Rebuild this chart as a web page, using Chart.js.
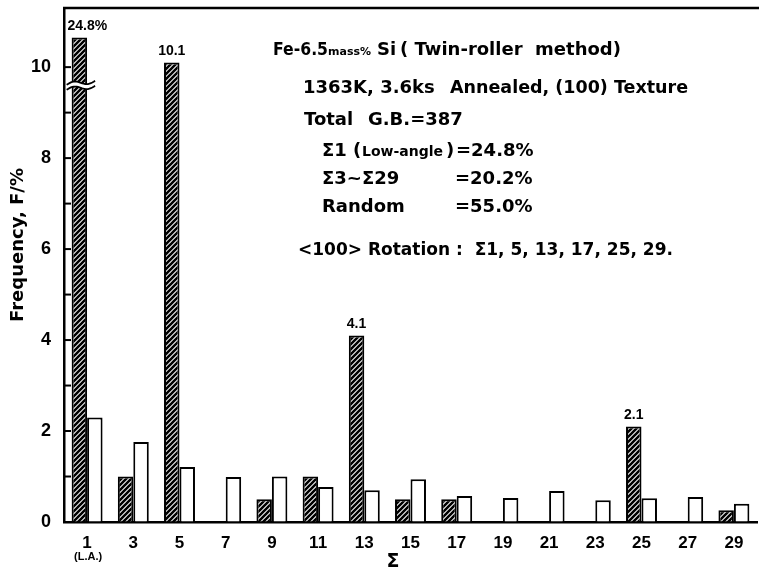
<!DOCTYPE html>
<html><head><meta charset="utf-8">
<script src="https://cdn.jsdelivr.net/npm/chart.js@4.4.0/dist/chart.umd.js"></script>
<style>html,body{margin:0;padding:0;background:#fff;}</style>
</head><body>
<canvas id="c" width="759" height="573"></canvas>
<script>
const SIGMA = ['1', '3', '5', '7', '9', '11', '13', '15', '17', '19', '21', '23', '25', '27', '29'];
const MEASURED = [24.8, 1.0, 10.1, 0, 0.5, 1.0, 4.1, 0.5, 0.5, 0, 0, 0, 2.1, 0, 0.26];
const RANDOM = [2.3, 1.76, 1.21, 0.99, 1.0, 0.77, 0.7, 0.94, 0.57, 0.53, 0.68, 0.48, 0.52, 0.55, 0.4];
const PEAK_LABELS = ['24.8%', '', '10.1', '', '', '', '4.1', '', '', '', '', '', '2.1', '', ''];
const Y_LABELS = [0, 2, 4, 6, 8, 10];
const Y_MAX = 11.3;
const CLIP_AT = 10.65;   // the Σ1 bar is drawn cut (axis break) at this height
const BREAK_AT = 9.6;
const FONT = '"Liberation Sans", Arial, sans-serif';
const TFONT = '"DejaVu Sans", sans-serif';

function hatch() {
    const s = 5, c = document.createElement('canvas');
    c.width = s; c.height = s;
    const g = c.getContext('2d');
    g.fillStyle = '#fff'; g.fillRect(0, 0, s, s);
    g.strokeStyle = '#000'; g.lineWidth = 2.6;
    g.beginPath();
    g.moveTo(-1, s + 1); g.lineTo(s + 1, -1);
    g.moveTo(-1, 1); g.lineTo(1, -1);
    g.moveTo(s - 1, s + 1); g.lineTo(s + 1, s - 1);
    g.stroke();
    return g.createPattern(c, 'repeat');
}

function txt(ctx, s, x, y, size, opts = {}) {
    ctx.save();
    ctx.font = `${opts.weight || 'bold'} ${size}px ${opts.family || TFONT}`;
    ctx.fillStyle = '#000';
    ctx.textAlign = opts.align || 'left';
    ctx.textBaseline = 'middle';
    if (opts.w) ctx.fillText(s, x, y, opts.w); else ctx.fillText(s, x, y);
    ctx.restore();
}

const decor = {
    id: 'decor',
    afterDatasetsDraw(chart) {
        const { ctx, chartArea: a, scales: { x, y } } = chart;
        // top frame line
        ctx.save();
        ctx.strokeStyle = '#000'; ctx.lineWidth = 2.5;
        ctx.beginPath(); ctx.moveTo(a.left - 1, a.top); ctx.lineTo(chart.width, a.top); ctx.stroke();
        // inward y ticks
        ctx.lineWidth = 2;
        y.ticks.forEach((t) => {
            if (!Number.isInteger(t.value) || t.value === 0) return;
            const py = y.getPixelForValue(t.value);
            ctx.beginPath(); ctx.moveTo(a.left, py); ctx.lineTo(a.left + 7, py); ctx.stroke();
        });
        ctx.restore();

        // axis break on the Σ1 bar
        const bar = chart.getDatasetMeta(0).data[0];
        const by = y.getPixelForValue(BREAK_AT);
        const x0 = bar.x - bar.width / 2 - 5, x1 = bar.x + bar.width / 2 + 8;
        const wave = (off) => {
            const pts = [];
            for (let i = 0; i <= 20; i++) {
                const t = i / 20, px = x0 + (x1 - x0) * t;
                pts.push([px, by + off + 2 - 4 * t - 2.2 * Math.sin(t * Math.PI * 2)]);
            }
            return pts;
        };
        const top = wave(-2.5), bot = wave(2.5);
        ctx.save();
        ctx.fillStyle = '#fff';
        ctx.beginPath();
        top.forEach(([px, py], i) => (i ? ctx.lineTo(px, py) : ctx.moveTo(px, py)));
        bot.slice().reverse().forEach(([px, py]) => ctx.lineTo(px, py));
        ctx.closePath(); ctx.fill();
        ctx.strokeStyle = '#000'; ctx.lineWidth = 1.8;
        [top, bot].forEach((w) => {
            ctx.beginPath();
            w.forEach(([px, py], i) => (i ? ctx.lineTo(px, py) : ctx.moveTo(px, py)));
            ctx.stroke();
        });
        ctx.restore();

        // value labels over the tall bars
        chart.getDatasetMeta(0).data.forEach((b, i) => {
            if (!PEAK_LABELS[i]) return;
            txt(ctx, PEAK_LABELS[i], b.x + (i === 0 ? 8 : 0), b.y - 11, 14, { align: 'center', family: FONT });
        });

        // axis titles
        ctx.save();
        ctx.translate(18, 245); ctx.rotate(-Math.PI / 2);
        txt(ctx, 'Frequency, F/%', 0, 0, 18, { align: 'center', w: 176 });
        ctx.restore();
        txt(ctx, 'Σ', 393, 562, 19, { align: 'center' });
        txt(ctx, '(L.A.)', x.getPixelForValue(0) + 1, 557, 11, { align: 'center', family: FONT });

        // annotation block
        txt(ctx, 'Fe-6.5', 273, 50, 18, { w: 55 });
        txt(ctx, 'mass%', 328, 52, 11, { w: 46 });
        txt(ctx, 'Si', 377, 50, 18);
        txt(ctx, '( Twin-roller  method)', 400, 50, 18, { w: 271 });
        txt(ctx, '1363K, 3.6ks', 303, 88, 18, { w: 134 });
        txt(ctx, 'Annealed, (100) Texture', 450, 88, 18, { w: 238 });
        txt(ctx, 'Total', 304, 120, 18);
        txt(ctx, 'G.B.=387', 368, 120, 18, { w: 104 });
        txt(ctx, 'Σ1', 322, 151, 18);
        txt(ctx, '(', 353, 151, 18);
        txt(ctx, 'Low-angle', 362, 152, 14, { w: 83 });
        txt(ctx, ')', 446, 151, 18);
        txt(ctx, '=24.8%', 456, 151, 18, { w: 81 });
        txt(ctx, 'Σ3~Σ29', 322, 179, 18, { w: 90 });
        txt(ctx, '=20.2%', 455, 179, 18, { w: 82 });
        txt(ctx, 'Random', 322, 207, 18, { w: 84 });
        txt(ctx, '=55.0%', 455, 207, 18, { w: 82 });
        txt(ctx, '<100> Rotation :  Σ1, 5, 13, 17, 25, 29.', 298, 250, 18, { w: 375 });
    },
};

new Chart(document.getElementById('c'), {
    type: 'bar',
    data: {
        labels: SIGMA,
        datasets: [
            { data: MEASURED.map((v) => Math.min(v, CLIP_AT)), backgroundColor: hatch(), borderColor: '#000', borderWidth: 2 },
            { data: RANDOM, backgroundColor: '#fff', borderColor: '#000', borderWidth: 2 },
        ],
    },
    options: {
        responsive: false,
        animation: false,
        devicePixelRatio: 1,
        layout: { padding: { top: 8, right: 2, left: 0, bottom: 0 } },
        datasets: { bar: { categoryPercentage: 0.67, barPercentage: 1 } },
        plugins: { legend: { display: false }, tooltip: { enabled: false } },
        scales: {
            x: {
                afterFit: (s) => { s.height = 51; s.paddingLeft = 0; s.paddingRight = 0; },
                grid: { display: false, drawTicks: false },
                border: { display: true, color: '#000', width: 2.5 },
                ticks: { color: '#000', padding: 11, font: { family: FONT, size: 17, weight: 'bold' } },
            },
            y: {
                min: 0, max: Y_MAX,
                afterFit: (s) => { s.width = 64; s.paddingTop = 0; s.paddingBottom = 0; },
                grid: { drawOnChartArea: false, drawTicks: false },
                border: { display: true, color: '#000', width: 2.5 },
                ticks: {
                    stepSize: 1, padding: 13, color: '#000',
                    font: { family: FONT, size: 18, weight: 'bold' },
                    callback: (v) => (Y_LABELS.includes(v) ? String(v) : ''),
                },
            },
        },
    },
    plugins: [decor],
});
</script>
</body></html>
